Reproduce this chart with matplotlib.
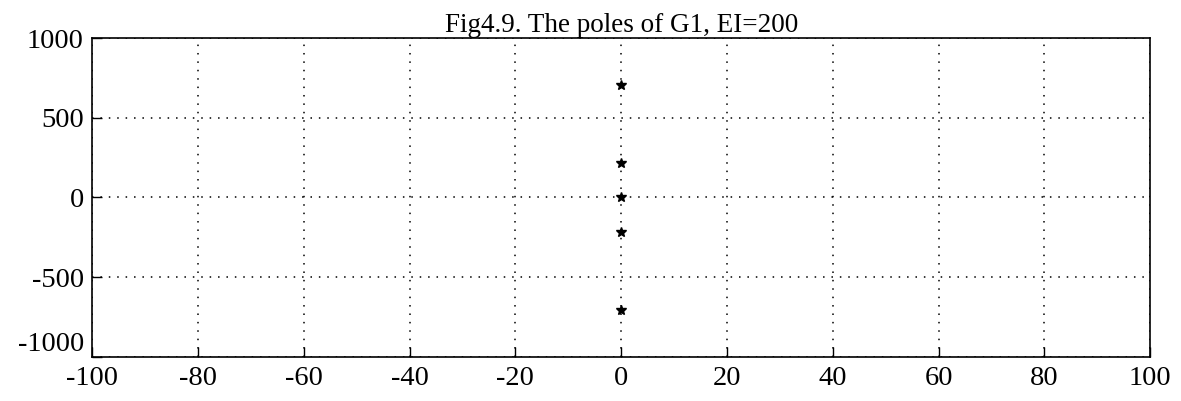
import matplotlib

matplotlib.use("Agg")
import matplotlib.pyplot as plt  # noqa: E402

# poles of G1 (real, imag)
pole_re = [0.0, 0.0, 0.0, 0.0, 0.0]
pole_im = [705, 218, 0, -218, -705]

x_ticks = [-100, -80, -60, -40, -20, 0, 20, 40, 60, 80, 100]
y_ticks = [-1000, -500, 0, 500, 1000]

plt.rcParams["font.family"] = ["Liberation Serif", "DejaVu Serif"]
plt.rcParams["axes.unicode_minus"] = False

fig = plt.figure(figsize=(11.81, 4.01), dpi=100)
ax = fig.add_axes([0.078, 0.110, 0.896, 0.795])

ax.plot(pole_re, pole_im, linestyle="none", marker="*", color="black", markersize=7)

ax.set_xlim(-100, 100)
ax.set_ylim(-1000, 1000)
ax.set_xticks(x_ticks)
ax.set_yticks(y_ticks)
ax.tick_params(direction="in", length=7, width=1, labelsize=20.5)
ax.tick_params(axis="y", pad=6)
ax.tick_params(axis="x", pad=6.5)
ax.grid(True, linestyle=(0, (1, 4.5)), color="black", linewidth=1.1)
for spine in ax.spines.values():
    spine.set_linewidth(1.2)

# lift the bottom y label a touch so it clears the first x label
ax.get_yticklabels()[0].set_verticalalignment("bottom")

ax.set_title("Fig4.9. The poles of G1, EI=200", fontsize=19.5, pad=2)

fig.savefig("out.png", dpi=100)
